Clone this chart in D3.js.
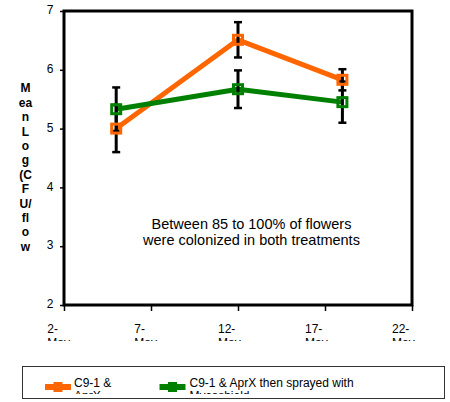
<!DOCTYPE html>
<html>
<head>
<meta charset="utf-8">
<script src="https://cdn.jsdelivr.net/npm/d3@7"></script>
<style>
  body { margin: 0; background: #fff; }
  text { font-family: "Liberation Sans", Arial, sans-serif; }
</style>
</head>
<body>
<div id="chart"></div>
<script>
// data
var sampleDays = ["2003-05-05", "2003-05-12", "2003-05-18"];
var seriesNames = ["C9-1 & AprX", "C9-1 & AprX then sprayed with Mycoshield"];
var aprxMeans = [5.0, 6.51, 5.83];
var aprxErrors = [0.4, 0.3, 0.18];
var mycoMeans = [5.33, 5.67, 5.45];
var mycoErrors = [0.37, 0.32, 0.35];
var xTickDays = ["2003-05-02", "2003-05-07", "2003-05-12", "2003-05-17", "2003-05-22"];
var xTickLabels = ["2-May", "7-May", "12-May", "17-May", "22-May"];
var yTicks = [2, 3, 4, 5, 6, 7];
var yLabelParts = ["M", "ea", "n", "L", "o", "g", "(C", "F", "U/", "fl", "o", "w"];
var noteLines = ["Between 85 to 100% of flowers", "were colonized in both treatments"];

(function (d3) {
    "use strict";

    var margin = { top: 11, left: 64, right: 38, bottom: 97 };
    var width = 450 - margin.left - margin.right;
    var height = 402 - margin.top - margin.bottom;

    var parse = d3.timeParse("%Y-%m-%d");

    var svg = d3.select("#chart").append("svg")
        .attr("width", 450)
        .attr("height", 402);

    // clip so the second lines of tick labels get cut like the original
    svg.append("clipPath").attr("id", "tickclip")
        .append("rect").attr("x", 0).attr("y", 0).attr("width", 450).attr("height", 341);

    var g = svg.append("g")
        .attr("transform", "translate(" + margin.left + "," + margin.top + ")");

    var xScale = d3.scaleTime()
        .domain([parse(xTickDays[0]), parse(xTickDays[xTickDays.length - 1])])
        .range([0, width]);
    var yScale = d3.scaleLinear().domain([2, 7]).range([height, 0]);

    var colors = {
        aprx: "#ff6600",
        myco: "#008000"
    };

    // plot frame
    g.append("rect")
        .attr("x", 0).attr("y", 0)
        .attr("width", width).attr("height", height)
        .attr("fill", "none")
        .attr("stroke", "#000")
        .attr("stroke-width", 3);

    // y axis ticks + labels
    var yAxis = d3.axisLeft(yScale).tickValues(yTicks).tickSize(4).tickFormat(d3.format("d"));
    var yg = g.append("g").attr("class", "y axis").call(yAxis);
    yg.select(".domain").remove();
    yg.selectAll("line").attr("stroke", "#000").attr("stroke-width", 1.5);
    yg.selectAll("text").attr("font-size", 12).attr("fill", "#000")
        .attr("font-family", "Liberation Sans, Arial, sans-serif")
        .attr("dx", -3.5).attr("dy", "0.22em");

    // x axis ticks
    var tickDates = xTickDays.map(parse);
    var xAxis = d3.axisBottom(xScale).tickValues(tickDates).tickSize(6).tickFormat("");
    var xg = g.append("g").attr("class", "x axis")
        .attr("transform", "translate(0," + height + ")")
        .call(xAxis);
    xg.select(".domain").remove();
    xg.selectAll("line").attr("stroke", "#000").attr("stroke-width", 1.5);

    // x labels (wrapped, second line clipped)
    var xl = svg.append("g").attr("clip-path", "url(#tickclip)");
    tickDates.forEach(function (d, i) {
        var parts = xTickLabels[i].split("-");
        var cx = margin.left + xScale(d);
        var t = xl.append("text")
            .attr("y", 333)
            .attr("font-size", 12)
            .attr("fill", "#000")
            .text(xTickLabels[i]);
        var w = t.node().getComputedTextLength();
        var left = cx - w / 2;
        t.text("");
        t.append("tspan").attr("x", left).text(parts[0] + "-");
        t.append("tspan").attr("x", left).attr("dy", 13.5).text(parts[1]);
    });

    // y axis title, broken in pieces
    var yl = svg.append("text")
        .attr("font-size", 12)
        .attr("font-weight", "bold")
        .attr("text-anchor", "middle")
        .attr("fill", "#000");
    yLabelParts.forEach(function (p, i) {
        yl.append("tspan").attr("x", 25.5).attr("y", 92.3 + i * 14.4).text(p);
    });

    // series
    var days = sampleDays.map(parse);
    var series = [
        { key: "aprx", means: aprxMeans, errors: aprxErrors },
        { key: "myco", means: mycoMeans, errors: mycoErrors }
    ];

    var line = d3.line()
        .x(function (d) { return xScale(d.day); })
        .y(function (d) { return yScale(d.v); });

    series.forEach(function (s) {
        var pts = days.map(function (d, i) { return { day: d, v: s.means[i], e: s.errors[i] }; });
        g.append("path")
            .datum(pts)
            .attr("d", line)
            .attr("fill", "none")
            .attr("stroke", colors[s.key])
            .attr("stroke-width", 5)
            .attr("stroke-linejoin", "round");
        s.pts = pts;
    });

    // error bars
    series.forEach(function (s) {
        s.pts.forEach(function (p) {
            var x = xScale(p.day);
            var top = yScale(p.v + p.e), bot = yScale(p.v - p.e);
            g.append("line").attr("x1", x).attr("x2", x).attr("y1", top).attr("y2", bot)
                .attr("stroke", "#000").attr("stroke-width", 3);
            [top, bot].forEach(function (y) {
                g.append("line").attr("x1", x - 4).attr("x2", x + 4).attr("y1", y).attr("y2", y)
                    .attr("stroke", "#000").attr("stroke-width", 2.5);
            });
        });
    });

    // markers
    series.forEach(function (s) {
        s.pts.forEach(function (p) {
            g.append("rect")
                .attr("x", xScale(p.day) - 4.5).attr("y", yScale(p.v) - 4.5)
                .attr("width", 9).attr("height", 9)
                .attr("fill", "none")
                .attr("stroke", colors[s.key])
                .attr("stroke-width", 3);
        });
    });

    // note
    noteLines.forEach(function (t, i) {
        svg.append("text")
            .attr("x", 251.5).attr("y", 228.5 + i * 16.5)
            .attr("text-anchor", "middle")
            .attr("font-size", 14.5)
            .attr("fill", "#000")
            .text(t);
    });

    // legend
    svg.append("clipPath").attr("id", "legclip")
        .append("rect").attr("x", 23).attr("y", 367).attr("width", 421).attr("height", 27);
    svg.append("rect")
        .attr("x", 22.5).attr("y", 366.5).attr("width", 422).attr("height", 32)
        .attr("fill", "#fff").attr("stroke", "#333").attr("stroke-width", 1);
    var lg = svg.append("g").attr("clip-path", "url(#legclip)");
    var legendItems = [
        { key: "aprx", x: 45, tx: 74, lines: ["C9-1 &", "AprX"] },
        { key: "myco", x: 159.5, tx: 189.5, lines: ["C9-1 & AprX then sprayed with", "Mycoshield"] }
    ];
    legendItems.forEach(function (it) {
        lg.append("line")
            .attr("x1", it.x).attr("x2", it.x + 26).attr("y1", 387).attr("y2", 387)
            .attr("stroke", colors[it.key]).attr("stroke-width", 6);
        lg.append("rect")
            .attr("x", it.x + 8.5).attr("y", 382).attr("width", 9).attr("height", 10)
            .attr("fill", colors[it.key]);
        var t = lg.append("text")
            .attr("x", it.tx).attr("y", 386.5)
            .attr("font-size", 12)
            .attr("fill", "#000");
        t.append("tspan").text(it.lines[0]);
        t.append("tspan").attr("x", it.tx).attr("dy", 13.7).text(it.lines[1]);
    });
})(d3);
</script>
</body>
</html>
